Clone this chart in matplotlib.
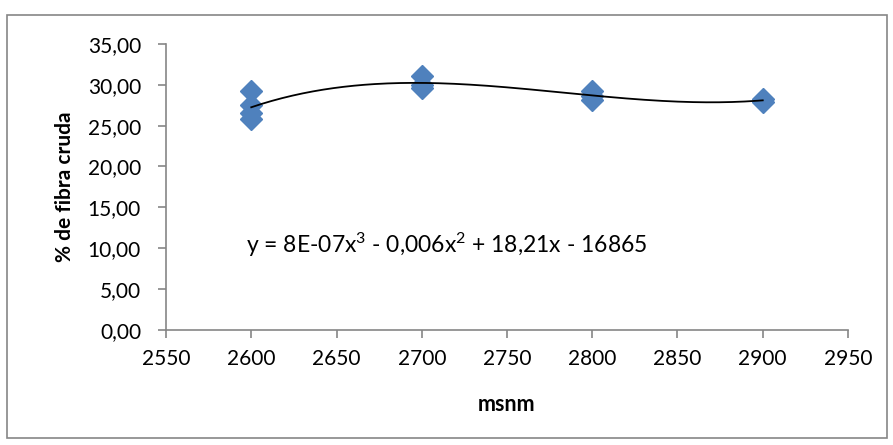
import numpy as np
import matplotlib
matplotlib.use('Agg')
from matplotlib import pyplot as plt
from matplotlib.ticker import FuncFormatter
from matplotlib.patches import Rectangle

# altitude (msnm) and crude fibre (%) per sample
altitud = [2600, 2600, 2600, 2600, 2700, 2700, 2700, 2800, 2800, 2800, 2900, 2900]
fibra = [29.2, 27.5, 26.5, 25.8, 31.1, 30.0, 29.6, 29.3, 28.6, 28.2, 28.3, 27.9]

x_ticks = [2550, 2600, 2650, 2700, 2750, 2800, 2850, 2900, 2950]
y_ticks = [0, 5, 10, 15, 20, 25, 30, 35]
ecuacion = r'y = 8E-07x$^{3}$ - 0,006x$^{2}$ + 18,21x - 16865'

FONT = 'Lato'
GREY = '#868686'
BLUE = '#4F81BD'

plt.rcParams['font.family'] = [FONT, 'DejaVu Sans']
plt.rcParams['mathtext.fontset'] = 'custom'
plt.rcParams['mathtext.rm'] = FONT
plt.rcParams['mathtext.it'] = FONT
plt.rcParams['mathtext.default'] = 'regular'

fig = plt.figure(figsize=(8.93, 4.45), dpi=100)
fig.patches.append(Rectangle((0.008, 0.015), 0.985, 0.952, transform=fig.transFigure,
                             fill=False, edgecolor=GREY, linewidth=1.2))
ax = fig.add_axes([0.1859, 0.2591, 0.7637, 0.642])

ax.plot(altitud, fibra, linestyle='none', marker='D', markersize=11,
        color=BLUE, markeredgecolor=BLUE, zorder=2)

# cubic trend line
coef = np.polyfit(altitud, fibra, 3)
xs = np.linspace(min(altitud), max(altitud), 200)
ax.plot(xs, np.polyval(coef, xs), color='black', linewidth=1.3, zorder=3)

ax.set_xlim(2550, 2950)
ax.set_ylim(0, 35)
ax.set_xticks(x_ticks)
ax.set_yticks(y_ticks)
ax.yaxis.set_major_formatter(FuncFormatter(lambda v, p: f'{v:.2f}'.replace('.', ',')))

for side in ('top', 'right'):
    ax.spines[side].set_visible(False)
for side in ('left', 'bottom'):
    ax.spines[side].set_color(GREY)
    ax.spines[side].set_linewidth(1.2)
ax.tick_params(axis='both', direction='out', length=6, width=1.2, color=GREY,
               labelsize=15, labelcolor='black')
ax.tick_params(axis='y', pad=12)
ax.tick_params(axis='x', pad=8)

ax.set_xlabel('msnm', fontsize=15.5, fontweight='bold', labelpad=18)
ax.set_ylabel('% de fibra cruda', fontsize=15, fontweight='bold', labelpad=9)

ax.text(2597, 10.4, ecuacion, fontsize=16.5, va='center', ha='left')

fig.savefig('out.png', dpi=100)
